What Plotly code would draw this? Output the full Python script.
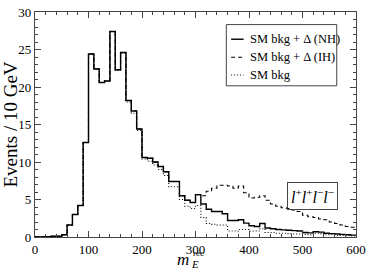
import plotly.graph_objects as go

# bin edges, 10 GeV bins from 0 to 600
bin_edges = list(range(0, 610, 10))

# SM bkg + Delta (NH)
nh = [0.02, 0.02, 0.05, 0.1, 0.1, 0.3, 1.6, 3.0, 4.2, 12.6,
      24.4, 22.4, 20.6, 20.8, 27.4, 22.3, 24.6, 18.2, 16.8, 14.4,
      10.6, 10.5, 10.0, 9.4, 8.7, 7.4, 7.4, 5.5, 4.9, 4.6,
      5.65, 4.4, 3.7, 3.4, 3.4, 3.1, 2.2, 2.2, 2.3, 1.85,
      1.5, 1.4, 1.8, 1.2, 1.1, 1.0, 0.95, 0.9, 0.85, 0.8,
      0.6, 0.55, 0.7, 0.65, 0.5, 0.45, 0.4, 0.35, 0.3, 0.25]

# SM bkg + Delta (IH)
ih = [0.02, 0.02, 0.05, 0.1, 0.1, 0.3, 1.6, 3.0, 4.2, 12.6,
      24.4, 22.4, 20.6, 20.8, 27.4, 22.3, 24.6, 18.2, 16.8, 14.4,
      10.6, 10.5, 10.0, 9.4, 8.7, 7.4, 7.4, 5.5, 4.9, 4.6,
      5.65, 5.5, 6.1, 6.5, 6.9, 6.9, 6.8, 6.5, 6.8, 5.9,
      5.2, 5.3, 5.5, 4.9, 4.4, 4.1, 3.9, 3.8, 3.6, 3.4,
      2.9, 2.7, 2.6, 2.4, 2.3, 2.0, 1.8, 1.6, 1.4, 1.3]

# SM bkg
sm = [0.02, 0.02, 0.05, 0.1, 0.1, 0.3, 1.6, 3.0, 4.2, 12.6,
      24.4, 22.4, 20.6, 20.8, 27.4, 22.2, 24.5, 18.0, 16.5, 14.2,
      10.4, 10.1, 9.6, 9.0, 8.2, 6.7, 6.7, 5.0, 4.1, 3.8,
      4.2, 2.6, 1.8, 1.7, 1.6, 1.6, 0.8, 0.8, 1.0, 1.0,
      0.8, 0.8, 1.1, 0.6, 0.6, 0.5, 0.5, 0.45, 0.4, 0.4,
      0.35, 0.3, 0.5, 0.45, 0.3, 0.3, 0.25, 0.2, 0.2, 0.15]

series_names = ["SM bkg + Δ (NH)", "SM bkg + Δ (IH)", "SM bkg"]

x_ticks = [0, 100, 200, 300, 400, 500, 600]
y_ticks = [0, 5, 10, 15, 20, 25, 30]

FONT = "Liberation Serif"

def step(vals):
    return bin_edges, list(vals) + [vals[-1]]

styles = [
    dict(color="black", width=1.4, dash="solid"),
    dict(color="black", width=1.1, dash="4px,3px"),
    dict(color="black", width=1.1, dash="1px,2px"),
]

fig = go.Figure()
for name, vals, st in zip(series_names, [nh, ih, sm], styles):
    xs, ys = step(vals)
    fig.add_trace(go.Scatter(x=xs, y=ys, mode="lines", line_shape="hv",
                             name=name, line=st, showlegend=False))

axis_common = dict(
    showline=True, linecolor="#444", linewidth=1.2, mirror="allticks",
    ticks="inside", ticklen=6, tickcolor="#444", tickwidth=1,
    showgrid=False, zeroline=False, ticklabeloverflow="allow",
    tickfont=dict(family=FONT, size=13, color="black"),
)
fig.update_xaxes(range=[0, 600], tickvals=x_ticks, **axis_common,
                 minor=dict(ticks="inside", ticklen=3, dtick=20, tickcolor="#444", showgrid=False))
fig.update_yaxes(range=[0, 30], tickvals=y_ticks, **axis_common,
                 minor=dict(ticks="inside", ticklen=3, dtick=1, tickcolor="#444", showgrid=False),
                 title=dict(text="Events / 10 GeV", font=dict(family=FONT, size=19, color="black"),
                            standoff=0))

# manual legend (short line samples as in the reference)
shapes = [dict(type="rect", xref="paper", yref="paper", x0=0.596, x1=0.940,
               y0=0.672, y1=0.944, line=dict(color="#444", width=1), fillcolor="white",
               layer="above")]
annotations = []
row_y = [0.879, 0.799, 0.720]
for name, st, yy in zip(series_names, styles, row_y):
    shapes.append(dict(type="line", xref="paper", yref="paper", x0=0.611, x1=0.650,
                       y0=yy, y1=yy, line=st, layer="above"))
    annotations.append(dict(text=name, xref="paper", yref="paper", x=0.662, y=yy,
                            xanchor="left", yanchor="middle", showarrow=False,
                            font=dict(family=FONT, size=12.5, color="black")))

annotations += [
    dict(text="<i>l</i><sup>+</sup><i>l</i><sup>+</sup><i>l</i><sup>−</sup><i>l</i><sup>−</sup>",
         xref="paper", yref="paper", x=0.943, y=0.181, xanchor="right", yanchor="middle",
         showarrow=False, bordercolor="#444", borderwidth=1, borderpad=3,
         font=dict(family=FONT, size=16, color="black")),
    dict(text="<i>m</i>", xref="paper", yref="paper", x=0.462, y=-0.1,
         xanchor="center", yanchor="middle", showarrow=False,
         font=dict(family=FONT, size=17, color="black")),
    dict(text="rec", xref="paper", yref="paper", x=0.508, y=-0.072,
         xanchor="center", yanchor="middle", showarrow=False,
         font=dict(family=FONT, size=9, color="black")),
    dict(text="<i>E</i>", xref="paper", yref="paper", x=0.497, y=-0.118,
         xanchor="center", yanchor="middle", showarrow=False,
         font=dict(family=FONT, size=11, color="black")),
]

fig.update_layout(
    width=371, height=273,
    margin=dict(l=30, r=9, t=5, b=36),
    paper_bgcolor="white", plot_bgcolor="white",
    font=dict(family=FONT, color="black"),
    showlegend=False,
    shapes=shapes,
    annotations=annotations,
)

post = (
    "document.body.style.margin='0';"
    "var s=document.createElement('style');"
    "s.innerHTML='.modebar-container{display:none !important;}';"
    "document.head.appendChild(s);"
)
fig.write_html("out.html", post_script=post)
